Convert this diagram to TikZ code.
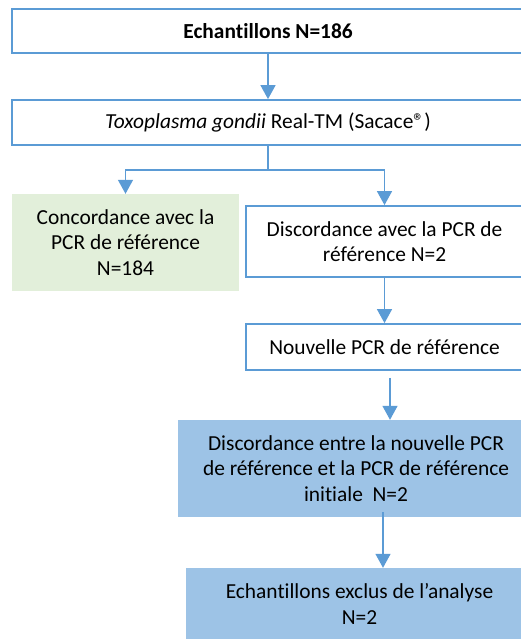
\documentclass[tikz,border=0pt]{standalone}
\usepackage{fontspec}
\setmainfont{Carlito}[Ligatures={NoCommon,TeX}]
\usetikzlibrary{arrows.meta}
\definecolor{obl}{HTML}{5B9BD5}
\definecolor{ogr}{HTML}{E2EFDA}
\definecolor{olb}{HTML}{9DC3E6}
\begin{document}
\begin{tikzpicture}[x=1pt,y=-1pt,
  wbox/.style={draw=obl,line width=1.8pt,fill=white,inner sep=0pt,align=center,font=\fontsize{21.4}{25.5}\selectfont},
  fbox/.style={inner sep=0pt,align=center,font=\fontsize{21.4}{25.5}\selectfont},
  arr/.style={draw=obl,line width=1.4pt,-{Triangle[width=15pt,length=14pt]}},
  ln/.style={draw=obl,line width=1.4pt}]
\clip (0,0) rectangle (521,639);
\fill[white] (0,0) rectangle (521,639);
\node[wbox,minimum width=512pt,minimum height=44pt] (b1) at (268,31) {\textbf{Echantillons N=186}};
\node[wbox,minimum width=512pt,minimum height=45pt] (b2) at (268,122.5) {\textit{Toxoplasma gondii} Real-TM (Sacace®)};
\node[fbox,fill=ogr,minimum width=227pt,minimum height=97pt] (g) at (125.5,242.5) {Concordance avec la\\PCR de référence\\N=184};
\node[wbox,minimum width=277pt,minimum height=71pt] (d) at (384.5,241.5) {Discordance avec la PCR de\\référence N=2};
\node[wbox,minimum width=277pt,minimum height=46pt] (n) at (384.5,347) {Nouvelle PCR de référence};
\node[fbox,fill=olb,minimum width=356pt,minimum height=97pt] (b5) at (356,468.5) {Discordance entre la nouvelle PCR\\de référence et la PCR de référence\\initiale~~N=2};
\node[fbox,fill=olb,minimum width=347pt,minimum height=72pt] (b6) at (359.5,604) {Echantillons exclus de l’analyse\\N=2};
\draw[arr] (b1.south) -- (b2.north);
\coordinate (j) at ([yshift=-24pt]b2.south);
\draw[ln] (b2.south) -- (j);
\draw[arr] (j) -| (g.north);
\draw[arr] (j) -| (d.north);
\draw[arr] (d.south) -- (n.north);
\draw[arr] ([yshift=-7pt]n.south -| 390,0) -- (b5.north -| 390,0);
\draw[arr] ([yshift=5pt]b5.south -| 383,0) -- (b6.north -| 383,0);
\end{tikzpicture}
\end{document}
